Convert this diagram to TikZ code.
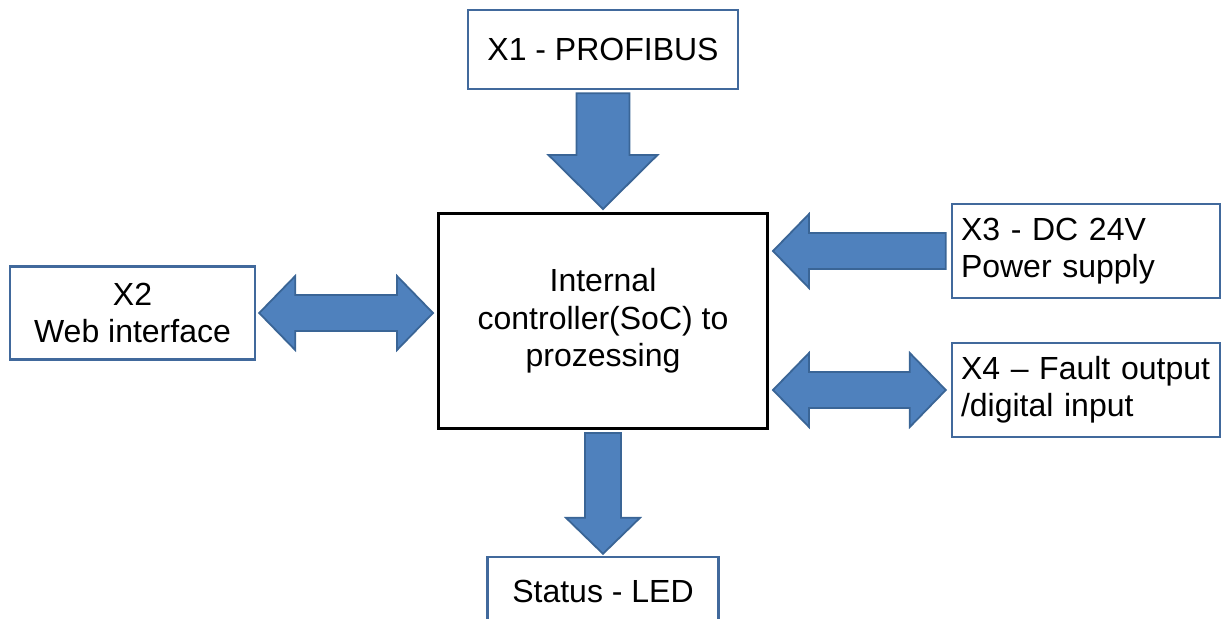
\documentclass[tikz,border=0pt]{standalone}
\usepackage{fontspec}
\setmainfont{Liberation Sans}
\usetikzlibrary{calc}

\definecolor{arrowfill}{HTML}{4F81BD}
\definecolor{arrowedge}{HTML}{3A6596}
\definecolor{boxedge}{HTML}{41699C}

\newcommand\blkshaft{9pt}
\newcommand\blkhead{18.5pt}
\newcommand\blktip{18pt}

\tikzset{
  shaft width/.store in=\blkshaft,
  head width/.store in=\blkhead,
  tip length/.store in=\blktip,
  port/.style={draw=boxedge, line width=1.2pt, fill=white},
  blockarrow/.style={draw=arrowedge, fill=arrowfill, line width=0.9pt,
    to path={let \p1=(\tikztostart), \p2=(\tikztotarget),
      \n1={atan2(\y2-\y1,\x2-\x1)}, \n2={veclen(\x2-\x1,\y2-\y1)} in
      ($(\p1)+(\n1+90:\blkshaft)$)
      -- ($(\p1)+(\n1:\n2-\blktip)+(\n1+90:\blkshaft)$)
      -- ($(\p1)+(\n1:\n2-\blktip)+(\n1+90:\blkhead)$)
      -- (\p2)
      -- ($(\p1)+(\n1:\n2-\blktip)+(\n1-90:\blkhead)$)
      -- ($(\p1)+(\n1:\n2-\blktip)+(\n1-90:\blkshaft)$)
      -- ($(\p1)+(\n1-90:\blkshaft)$)
      -- cycle}},
  twowayarrow/.style={draw=arrowedge, fill=arrowfill, line width=0.9pt,
    to path={let \p1=(\tikztostart), \p2=(\tikztotarget),
      \n1={atan2(\y2-\y1,\x2-\x1)}, \n2={veclen(\x2-\x1,\y2-\y1)} in
      (\p1)
      -- ($(\p1)+(\n1:\blktip)+(\n1+90:\blkhead)$)
      -- ($(\p1)+(\n1:\blktip)+(\n1+90:\blkshaft)$)
      -- ($(\p1)+(\n1:\n2-\blktip)+(\n1+90:\blkshaft)$)
      -- ($(\p1)+(\n1:\n2-\blktip)+(\n1+90:\blkhead)$)
      -- (\p2)
      -- ($(\p1)+(\n1:\n2-\blktip)+(\n1-90:\blkhead)$)
      -- ($(\p1)+(\n1:\n2-\blktip)+(\n1-90:\blkshaft)$)
      -- ($(\p1)+(\n1:\blktip)+(\n1-90:\blkshaft)$)
      -- ($(\p1)+(\n1:\blktip)+(\n1-90:\blkhead)$)
      -- cycle}},
}

\begin{document}
\begin{tikzpicture}[x=0.5pt, y=-0.5pt, font=\fontsize{16}{18.7}\selectfont]
  \useasboundingbox (0,0) rectangle (1222,618);

  \node[draw, line width=1.5pt, minimum width=164.5pt, minimum height=107.5pt, align=center]
    (main) at (603,321) {Internal\\controller(SoC) to\\prozessing};
  \node[port, minimum width=135pt, minimum height=39.5pt] (x1) at (603,49.5) {X1 - PROFIBUS};
  \node[port, minimum width=122.5pt, minimum height=46.5pt, align=center]
    (x2) at (132.5,313) {X2\\Web interface};
  \node[port, text width=125pt, inner xsep=4.5pt, minimum height=47pt, align=left]
    (x3) at (1086,251) {X3 - DC 24V\\Power supply};
  \node[port, text width=125pt, inner xsep=4.5pt, minimum height=47pt, align=left]
    (x4) at (1086,390) {\mbox{X4 – Fault output}\\/digital input};
  \node[port, minimum width=115.5pt, minimum height=34pt] (status) at (603,591) {Status - LED};

  \coordinate (x2in) at (main.west |- x2.east);
  \coordinate (x3in) at (main.east |- x3.west);
  \coordinate (x4in) at (main.east |- x4.west);

  \draw[blockarrow, shaft width=13.25pt, head width=27.25pt, tip length=27pt]
    ([yshift=-1.5pt]x1.south) to ([yshift=1.5pt]main.north);
  \draw[blockarrow] ([yshift=-1.5pt]main.south) to ([yshift=1pt]status.north);
  \draw[blockarrow] ([xshift=-2.5pt]x3.west) to ([xshift=2pt]x3in);
  \draw[twowayarrow] ([xshift=1.5pt]x2.east) to ([xshift=-2pt]x2in);
  \draw[twowayarrow] ([xshift=2pt]x4in) to ([xshift=-2.5pt]x4.west);
\end{tikzpicture}
\end{document}
